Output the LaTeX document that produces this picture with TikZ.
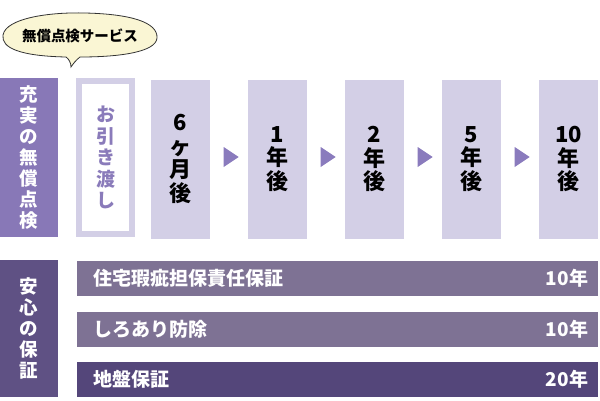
\documentclass[tikz,border=0pt]{standalone}
\usepackage{fontspec}
\setmainfont{Noto Sans CJK JP}
\usetikzlibrary{positioning,calc,shapes.geometric}

\definecolor{checkpurple}{HTML}{8878B7}
\definecolor{steplight}{HTML}{D3CFE6}
\definecolor{handovertext}{HTML}{8A7BBA}
\definecolor{arrowpurple}{HTML}{8A7BBD}
\definecolor{barpurple}{HTML}{7E7294}
\definecolor{bardark}{HTML}{54467A}
\definecolor{guardpurple}{HTML}{5F5184}
\definecolor{bubblefill}{HTML}{FAF6D4}

\begin{document}
\begin{tikzpicture}[x=1pt, y=-1pt,
    every node/.style={inner sep=0pt, font=\bfseries},
    label box/.style={fill=#1, minimum width=58pt, text=white, align=center,
        font=\bfseries\fontsize{18.5}{21}\selectfont},
    handover box/.style={fill=white, draw=steplight, line width=6pt,
        minimum width=53pt, minimum height=153pt, text=handovertext, align=center,
        font=\bfseries\fontsize{19}{21.5}\selectfont},
    step box/.style={fill=steplight, minimum width=59pt, minimum height=159pt,
        align=center, font=\bfseries\fontsize{22}{23.5}\selectfont},
    arrow tri/.style={isosceles triangle, isosceles triangle stretches,
        fill=arrowpurple, minimum width=20pt, minimum height=15pt},
    bar/.style={minimum width=521pt, minimum height=35pt},
    bar text/.style={text=white, font=\bfseries\fontsize{19}{21}\selectfont}]

    \useasboundingbox (0,0) rectangle (600,400);

    % bubble
    \draw [fill=bubblefill, draw=black!80, line width=0.8pt]
        (66,57) .. controls (20,56) and (1,48) .. (3,35)
        .. controls (6,18) and (50,12) .. (85,13)
        .. controls (130,14) and (158,22) .. (157,38)
        .. controls (156,52) and (120,57) .. (80,57)
        .. controls (76,60) and (73,64) .. (71,67)
        .. controls (71,63) and (69,59) .. (66,57) -- cycle;
    \node [font=\bfseries\fontsize{14.5}{16}\selectfont] (service) at (80,36) {無償点検サービス};

    % inspection row
    \node [label box=checkpurple, minimum height=159pt] (check-label) at (29,157.5)
        {充\\実\\の\\無\\償\\点\\検};
    \node [handover box] (handover) at (105.5,157.5) {お\\引\\き\\渡\\し};

    \foreach \t [count=\i] in {{6\\ヶ\\月\\後},{1\\年\\後},{2\\年\\後},{5\\年\\後},{10\\年\\後}}
    \node [step box] (step-\i) at (83.5+\i*97,159) {\t};

    \foreach \i [count=\j from 2] in {1,...,4}
    \node [arrow tri] (arrow-\i) at ($(step-\i.east)!0.5!(step-\j.west)+(0,-2)$) {};

    % guarantee rows
    \node [label box=guardpurple, minimum height=137pt] (guard-label) at (29,328.5)
        {安\\心\\の\\保\\証};

    \foreach \n/\y/\c [count=\i] in {住宅瑕疵担保責任保証/10年/barpurple,
        しろあり防除/10年/barpurple, 地盤保証/20年/bardark}
    {
        \node [bar, fill=\c] (bar-\i) at (337.5,228+\i*50.5) {};
        \node [bar text, anchor=west] (bar-\i-name) at ($(bar-\i.west)+(16,0)$) {\n};
        \node [bar text, anchor=east] (bar-\i-years) at ($(bar-\i.east)+(-10,0)$) {\y};
    }

\end{tikzpicture}
\end{document}
